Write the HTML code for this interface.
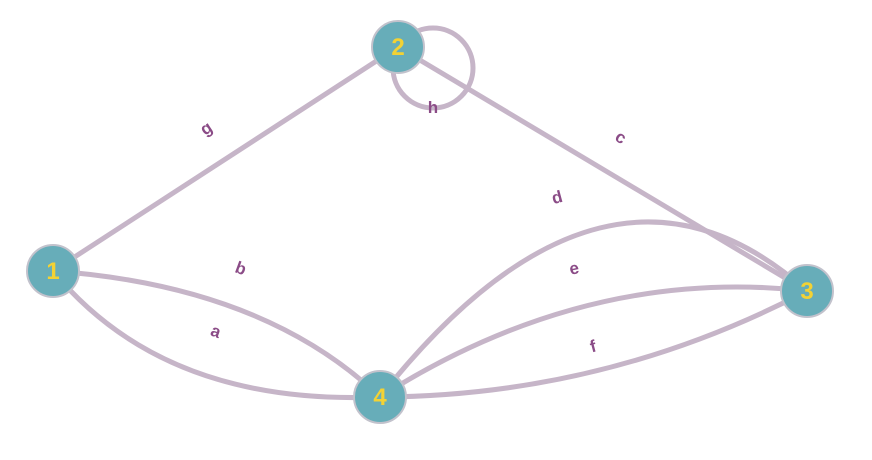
<!DOCTYPE html>
<html><head><style>body{margin:0;background:#fff}</style></head><body>
<svg width="872" height="455" xmlns="http://www.w3.org/2000/svg" font-family="Liberation Sans, sans-serif">
<g fill="none" stroke="#c6b5c8" stroke-width="5">
<line x1="53" y1="271" x2="398" y2="47"/>
<line x1="398" y1="47" x2="807" y2="291"/>
<circle cx="433" cy="68" r="40"/>
<path d="M380 397 Q606 112 807 291"/>
<path d="M380 397 Q586 266 807 291"/>
<path d="M380 397 Q606 396 807 291"/>
<path d="M53 271 Q264 286 380 397"/>
<path d="M53 271 Q164 406 380 397"/>
</g>
<g fill="#8b4c87" font-size="17" font-weight="bold" text-anchor="middle">
<text x="206" y="134" transform="rotate(-33 206 128)">g</text><text x="433" y="113">h</text>
<text x="621" y="143" transform="rotate(31 621 137)">c</text><text x="557" y="203" transform="rotate(-15 557 197)">d</text>
<text x="241" y="274" transform="rotate(20 241 268)">b</text><text x="574" y="274" transform="rotate(-12 574 268)">e</text>
<text x="216" y="337" transform="rotate(20 216 331)">a</text><text x="593" y="352" transform="rotate(-15 593 346)">f</text>
</g>
<g fill="#67adb9" stroke="#c2c2cc" stroke-width="2">
<circle cx="53" cy="271" r="26"/><circle cx="398" cy="47" r="26"/>
<circle cx="807" cy="291" r="26"/><circle cx="380" cy="397" r="26"/>
</g>
<g fill="#f3d234" font-size="24" font-weight="bold" text-anchor="middle">
<text x="53" y="279">1</text><text x="398" y="55">2</text>
<text x="807" y="299">3</text><text x="380" y="405">4</text>
</g>
</svg>
</body></html>
